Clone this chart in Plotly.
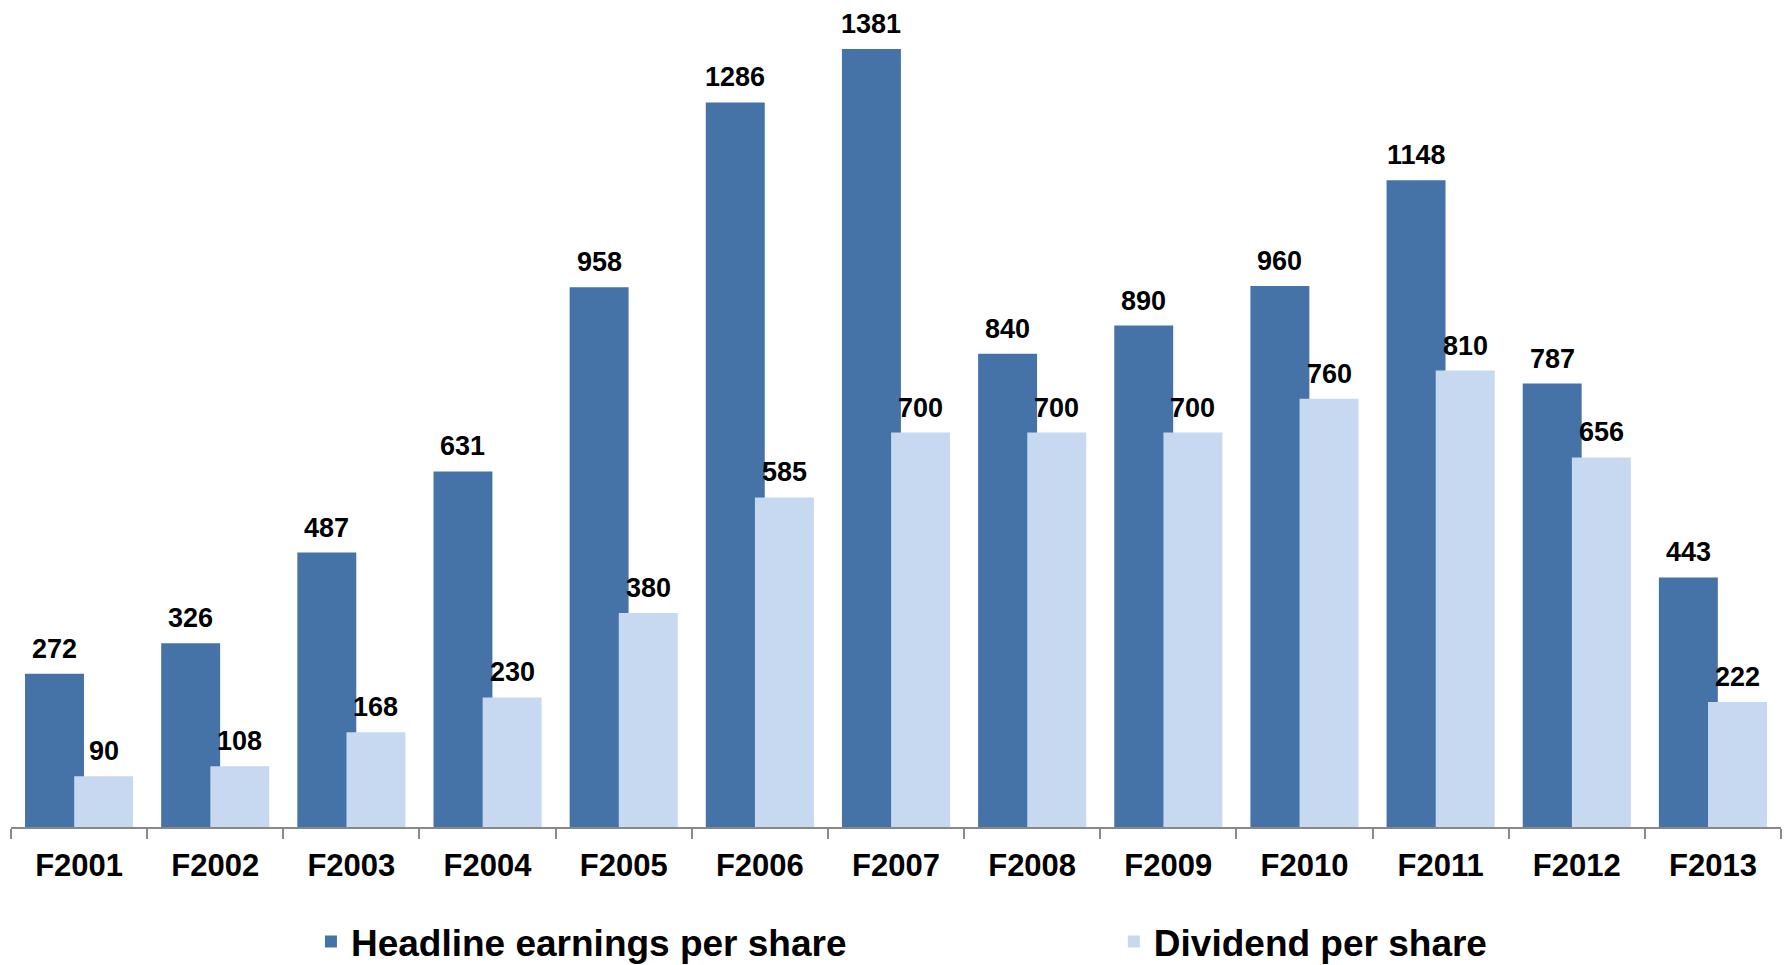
import plotly.graph_objects as go

# Fiscal years and per-share figures (cents)
years = ["F2001", "F2002", "F2003", "F2004", "F2005", "F2006", "F2007",
         "F2008", "F2009", "F2010", "F2011", "F2012", "F2013"]
heps = [272, 326, 487, 631, 958, 1286, 1381, 840, 890, 960, 1148, 787, 443]
dps = [90, 108, 168, 230, 380, 585, 700, 700, 700, 760, 810, 656, 222]

DARK = "#4572A7"
LIGHT = "#C6D9F0"
FONT = "Arial, 'Liberation Sans', sans-serif"

BAR_W = 0.433
DARK_OFF = -0.397
LIGHT_OFF = -0.036

fig = go.Figure()
fig.add_trace(go.Bar(
    name="Headline earnings per share", x=years, y=heps,
    marker=dict(color=DARK, line=dict(width=0)),
    width=BAR_W, offset=DARK_OFF, legend="legend",
))
fig.add_trace(go.Bar(
    name="Dividend per share", x=years, y=dps,
    marker=dict(color=LIGHT, line=dict(width=0)),
    width=BAR_W, offset=LIGHT_OFF, legend="legend2",
))

# Value labels above each bar
annotations = []
for i, (h, d) in enumerate(zip(heps, dps)):
    for val, off in ((h, DARK_OFF), (d, LIGHT_OFF)):
        annotations.append(dict(
            x=i + off + BAR_W / 2, y=val, xref="x", yref="y",
            text=f"<b>{val}</b>", showarrow=False,
            xanchor="center", yanchor="bottom", yshift=8,
            font=dict(family=FONT, size=27, color="black"),
        ))

legend_font = dict(family=FONT, size=37, color="black", weight="bold")
legend_common = dict(
    orientation="h", xref="container", yref="container",
    xanchor="left", yanchor="middle", y=0.024,
    font=legend_font, bgcolor="rgba(0,0,0,0)",
)

fig.update_layout(
    width=1785, height=965,
    margin=dict(l=11, r=4, t=10, b=138),
    paper_bgcolor="white", plot_bgcolor="white",
    barmode="overlay",
    annotations=annotations,
    showlegend=True,
    legend=dict(x=0.1742, **legend_common),
    legend2=dict(x=0.624, **legend_common),
    xaxis=dict(
        type="category", tickson="boundaries", ticks="outside", ticklen=10,
        tickwidth=2, tickcolor="#888888",
        showline=True, linecolor="#888888", linewidth=2,
        showgrid=False, zeroline=False,
        tickfont=dict(family=FONT, size=31, color="black", weight="bold"),
        ticklabelstandoff=10,
        range=[-0.5, 12.5],
    ),
    yaxis=dict(
        range=[0, 1450], visible=False, showgrid=False, zeroline=False,
    ),
)

fig.write_html("out.html")
